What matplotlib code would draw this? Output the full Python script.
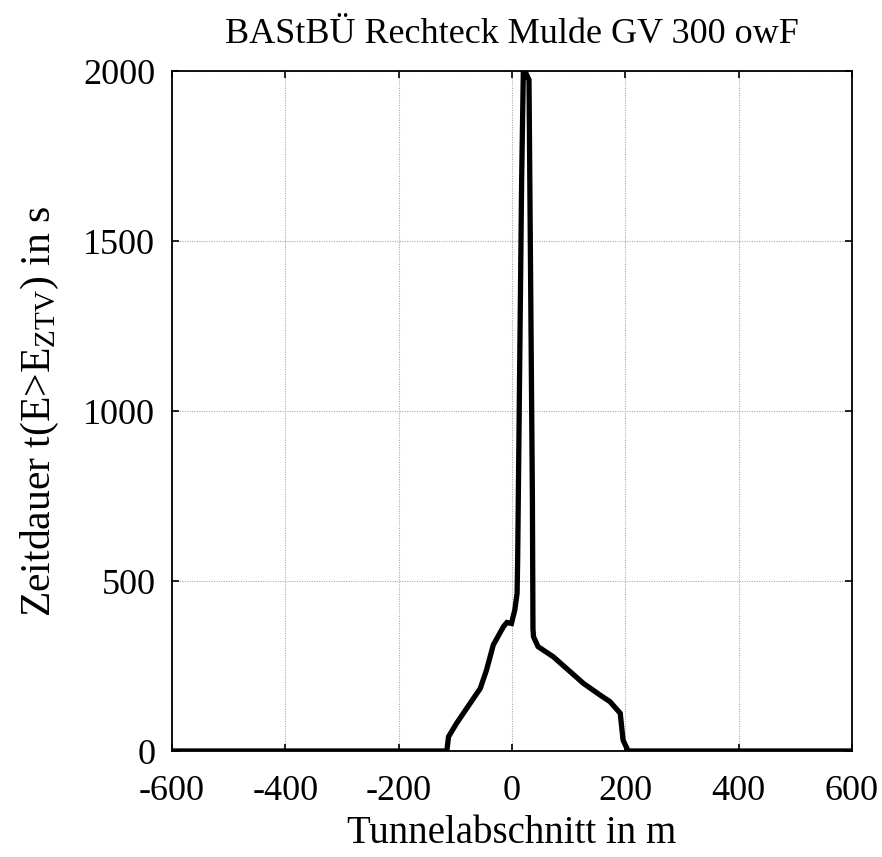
import matplotlib
matplotlib.use("Agg")
import matplotlib.pyplot as plt

# Tunnelabschnitt in m / Zeitdauer in s
abschnitt = [-600, -115, -112, -98, -74, -56, -45, -33, -15, -9, -1, 5, 9, 10, 17, 20,
             23, 26, 30, 36, 37, 38, 46, 73, 96, 126, 155, 173, 191, 196, 205, 600]
zeitdauer = [0, 0, 42, 81, 140, 184, 238, 312, 366, 378, 375, 415, 464, 562, 1680, 2000,
             2000, 1988, 1974, 740, 360, 336, 307, 277, 243, 199, 165, 145, 111, 32, 0, 0]

plt.rcParams["font.family"] = ["Liberation Serif", "DejaVu Serif"]
plt.rcParams["mathtext.fontset"] = "custom"
plt.rcParams["mathtext.rm"] = "Liberation Serif"
plt.rcParams["mathtext.it"] = "Liberation Serif:italic"
plt.rcParams["axes.unicode_minus"] = False

fig = plt.figure(figsize=(8.82, 8.57), dpi=100)
ax = fig.add_axes([172 / 882, 106 / 857, 680 / 882, 680 / 857])

ax.plot(abschnitt, zeitdauer, color="black", linewidth=3.8, solid_joinstyle="miter")

ax.set_xlim(-600, 600)
ax.set_ylim(0, 2000)
ax.set_xticks(range(-600, 601, 200))
ax.set_yticks(range(0, 2001, 500))
ax.grid(True, color="#aaaaaa", linestyle=(0, (1, 1.2)), linewidth=0.8)
ax.tick_params(direction="in", top=True, right=True, length=5, width=1.2,
               labelsize=26)
ax.tick_params(axis="x", pad=17)
ax.tick_params(axis="y", pad=12)
for s in ax.spines.values():
    s.set_linewidth(1.3)

ax.set_title("BAStBÜ Rechteck Mulde GV 300 owF", fontsize=26, pad=20)
ax.set_xlabel("Tunnelabschnitt in m", fontsize=28, labelpad=5)
ax.set_ylabel(r"Zeitdauer t(E>E$_{\mathrm{ZTV}}$) in s", fontsize=30, labelpad=16)

fig.savefig("out.png", dpi=100)
